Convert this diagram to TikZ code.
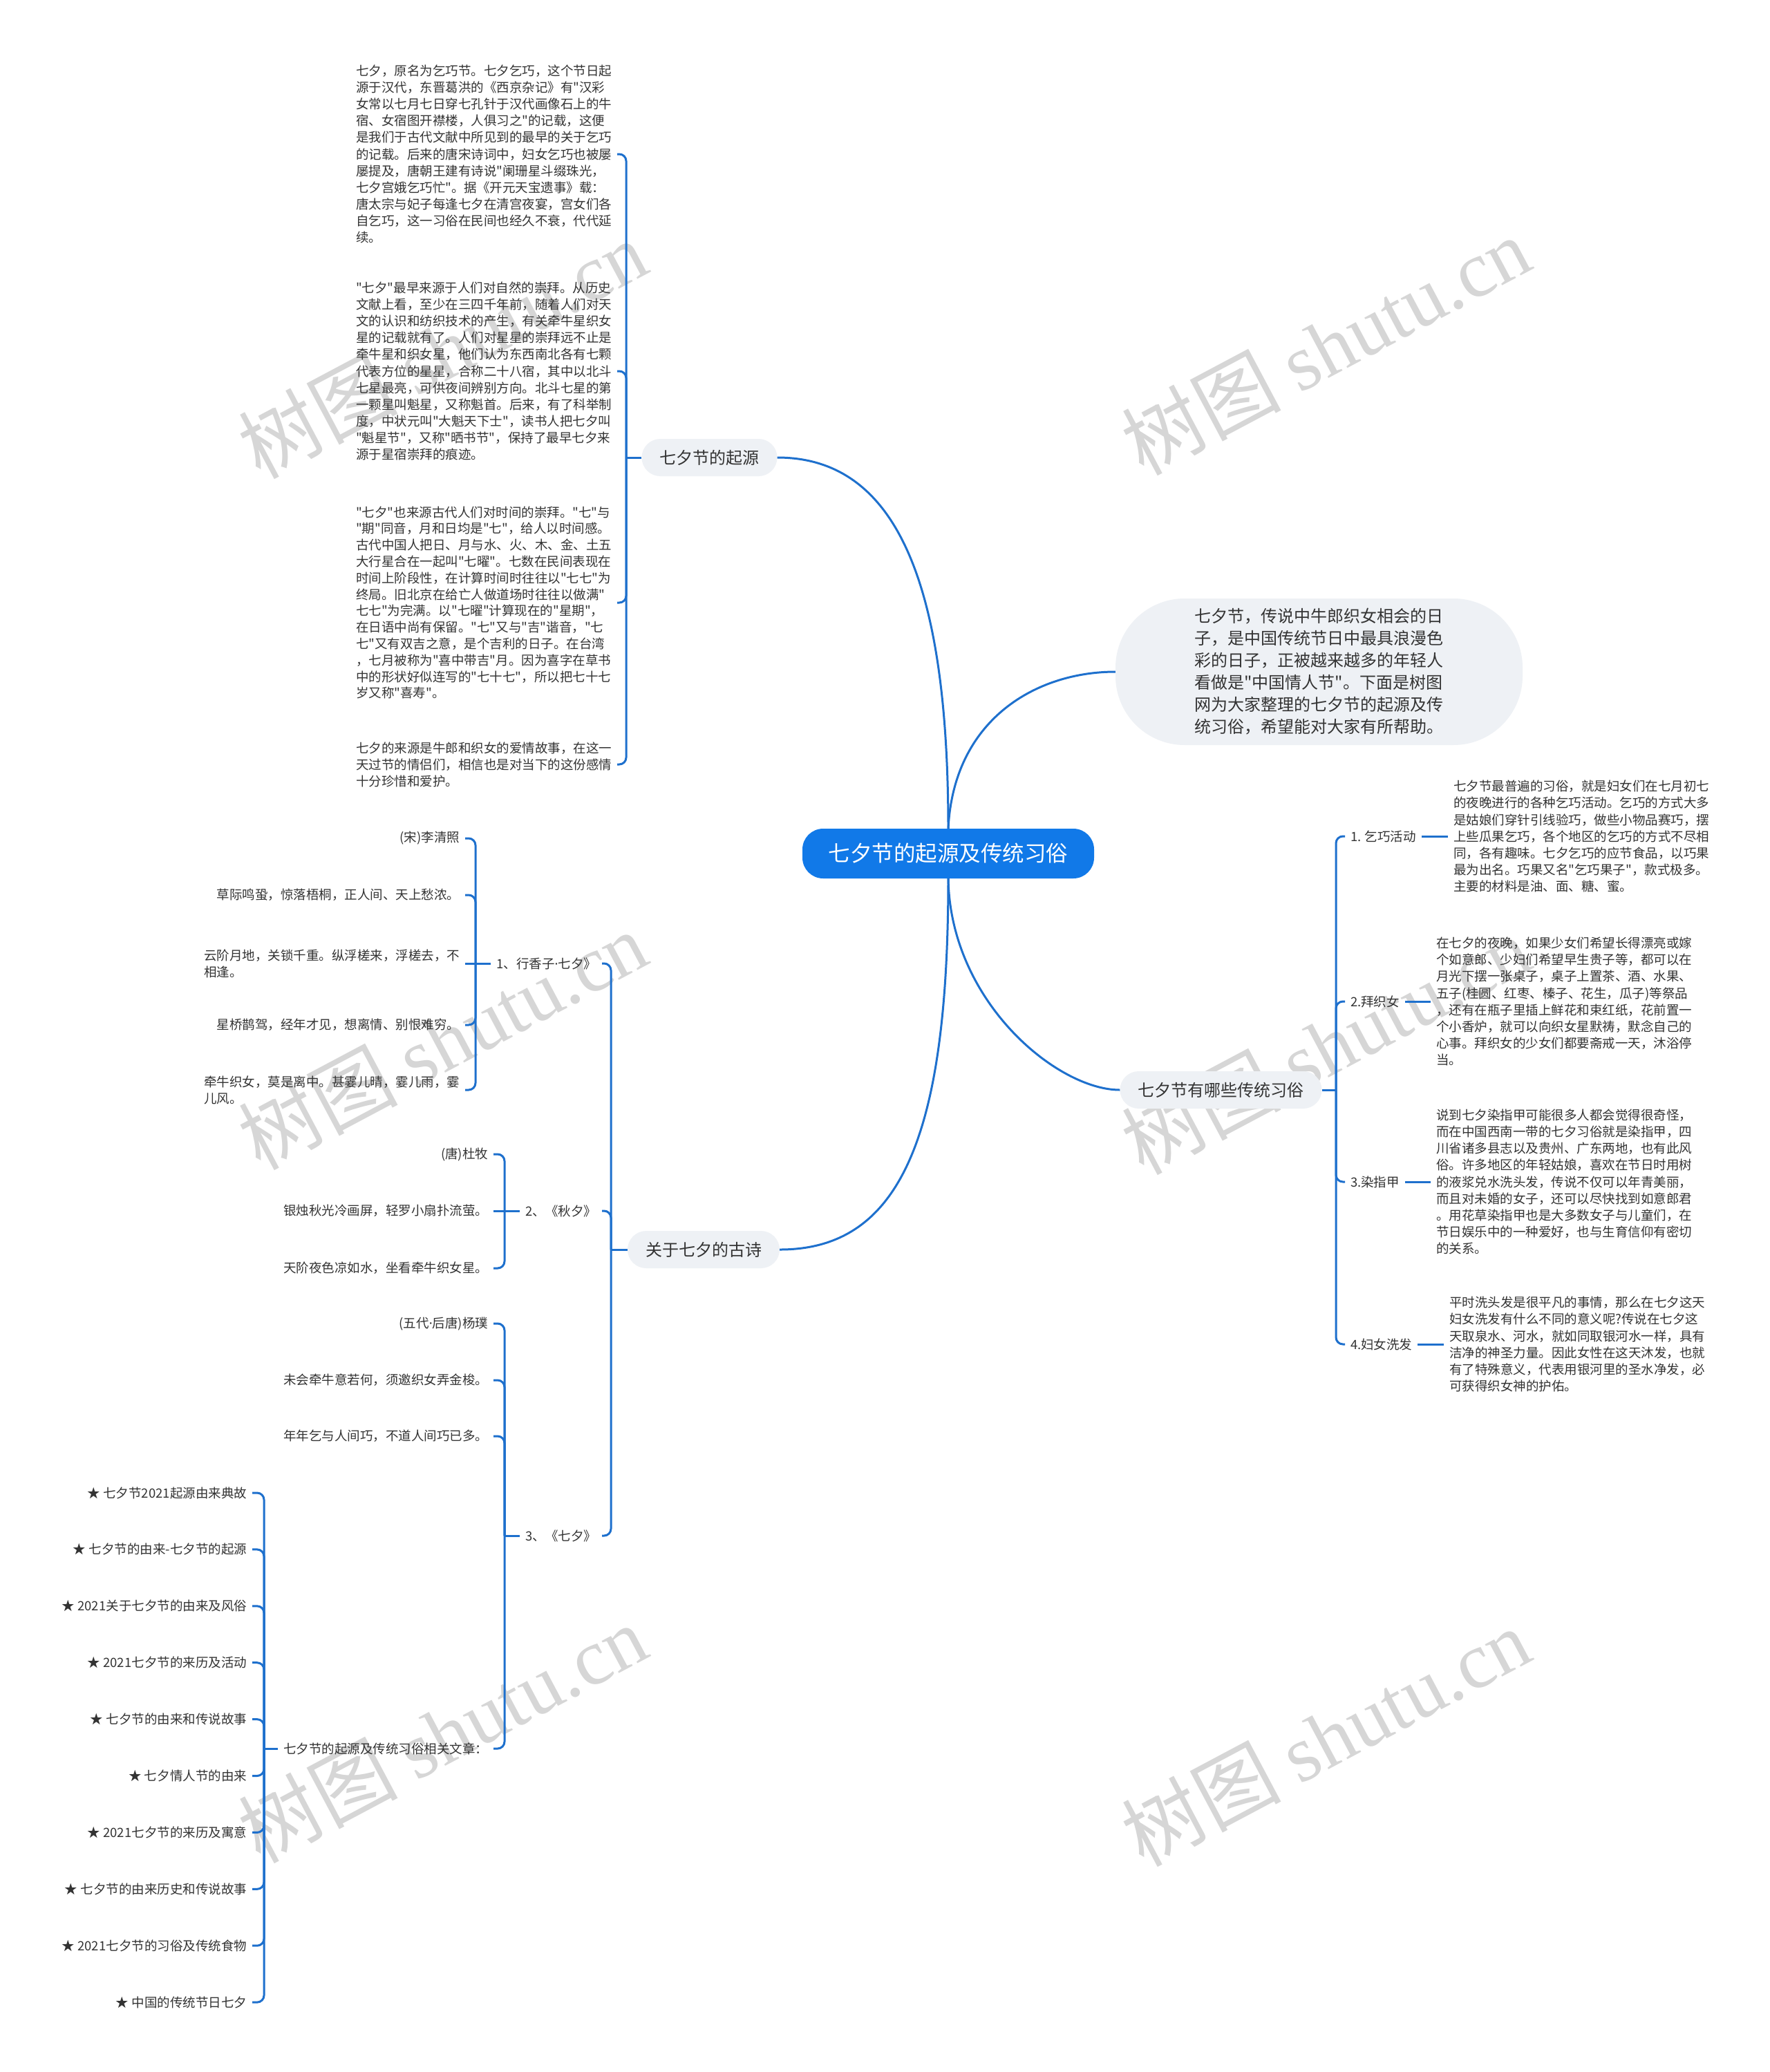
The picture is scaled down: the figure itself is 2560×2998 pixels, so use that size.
\documentclass[tikz,border=0pt]{standalone}
\usepackage{fontspec}
\setmainfont{Noto Sans CJK SC}[Ligatures=TeXOff]
\newfontfamily\wmlatin{Liberation Serif}
\newfontfamily\latinsans{Noto Sans}
\definecolor{lineblue}{RGB}{30,112,205}
\definecolor{rootblue}{RGB}{17,121,232}
\definecolor{pill}{RGB}{238,241,245}
\definecolor{txt}{RGB}{51,51,51}
\definecolor{wm}{RGB}{214,214,214}
\newcommand{\mdot}{{\latinsans ·}}
\tikzset{
  body/.style={font=\fontsize{18.5}{24.1}\selectfont, text=txt, align=left, inner sep=0pt, outer xsep=8pt},
  lbl/.style={font=\fontsize{18.5}{24.1}\selectfont, text=txt, inner sep=0pt, outer xsep=8pt},
  lvl/.style={font=\fontsize{24}{30}\selectfont, text=txt, fill=pill, rounded corners=27pt, minimum height=54pt, inner xsep=26pt, inner ysep=0pt},
  rootbox/.style={font=\fontsize{31.5}{36}\selectfont, text=white, fill=rootblue, rounded corners=30pt, minimum width=422pt, minimum height=72pt, inner sep=0pt},
  intro/.style={font=\fontsize{24}{32}\selectfont, text=txt, fill=pill, rounded corners=100pt, minimum width=589pt, minimum height=212pt, align=left, inner sep=0pt},
  conn/.style={draw=lineblue, line width=3pt},
  hook/.style={conn, rounded corners=10pt},
  wmark/.style={text=wm, rotate=28, font=\fontsize{115}{120}\selectfont, inner sep=0pt},
}
\begin{document}
\begin{tikzpicture}[x=1pt,y=-1pt]
\fill[white] (0,0) rectangle (2560,2998);
\useasboundingbox (0,0) rectangle (2560,2998);

% watermarks
\node[wmark] (w1) at (640,505) {树图 {\wmlatin shutu.cn}};
\node[wmark] (w2) at (1918,500) {树图 {\wmlatin shutu.cn}};
\node[wmark] (w3) at (640,1505) {树图 {\wmlatin shutu.cn}};
\node[wmark] (w4) at (1918,1512) {树图 {\wmlatin shutu.cn}};
\node[wmark] (w5) at (640,2508) {树图 {\wmlatin shutu.cn}};
\node[wmark] (w6) at (1918,2513) {树图 {\wmlatin shutu.cn}};

% root and level 1
\node[rootbox] (root) at (1372,1235) {七夕节的起源及传统习俗};
\node[lvl] (orig) at (1026.5,662) {七夕节的起源};
\node[lvl] (poem) at (1018,1808) {关于七夕的古诗};
\node[lvl] (cust) at (1766.5,1577) {七夕节有哪些传统习俗};
\node[intro] (intro) at (1908.5,972) {七夕节，传说中牛郎织女相会的日\\子，是中国传统节日中最具浪漫色\\彩的日子，正被越来越多的年轻人\\看做是"中国情人节"。下面是树图\\网为大家整理的七夕节的起源及传\\统习俗，希望能对大家有所帮助。};

\draw[conn] (root.north) .. controls (1372,850) and (1300,662) .. (orig.east);
\draw[conn] (root.north) .. controls (1380,1040) and (1500,972) .. (intro.west);
\draw[conn] (root.south) .. controls (1375,1450) and (1530,1577) .. (cust.west);
\draw[conn] (root.south) .. controls (1372,1650) and (1300,1808) .. (poem.east);

% origin blocks
\node[body, anchor=west] (b1) at (507,223) {七夕，原名为乞巧节。七夕乞巧，这个节日起\\源于汉代，东晋葛洪的《西京杂记》有"汉彩\\女常以七月七日穿七孔针于汉代画像石上的牛\\宿、女宿图开襟楼，人俱习之"的记载，这便\\是我们于古代文献中所见到的最早的关于乞巧\\的记载。后来的唐宋诗词中，妇女乞巧也被屡\\屡提及，唐朝王建有诗说"阑珊星斗缀珠光，\\七夕宫娥乞巧忙"。据《开元天宝遗事》载：\\唐太宗与妃子每逢七夕在清宫夜宴，宫女们各\\自乞巧，这一习俗在民间也经久不衰，代代延\\续。};
\node[body, anchor=west] (b2) at (507,537) {"七夕"最早来源于人们对自然的崇拜。从历史\\文献上看，至少在三四千年前，随着人们对天\\文的认识和纺织技术的产生，有关牵牛星织女\\星的记载就有了。人们对星星的崇拜远不止是\\牵牛星和织女星，他们认为东西南北各有七颗\\代表方位的星星，合称二十八宿，其中以北斗\\七星最亮，可供夜间辨别方向。北斗七星的第\\一颗星叫魁星，又称魁首。后来，有了科举制\\度，中状元叫"大魁天下士"，读书人把七夕叫\\"魁星节"，又称"晒书节"，保持了最早七夕来\\源于星宿崇拜的痕迹。};
\node[body, anchor=west, font=\fontsize{18.5}{23.8}\selectfont] (b3) at (507,872) {"七夕"也来源古代人们对时间的崇拜。"七"与\\"期"同音，月和日均是"七"，给人以时间感。\\古代中国人把日、月与水、火、木、金、土五\\大行星合在一起叫"七曜"。七数在民间表现在\\时间上阶段性，在计算时间时往往以"七七"为\\终局。旧北京在给亡人做道场时往往以做满"\\七七"为完满。以"七曜"计算现在的"星期"，\\在日语中尚有保留。"七"又与"吉"谐音，"七\\七"又有双吉之意，是个吉利的日子。在台湾\\，七月被称为"喜中带吉"月。因为喜字在草书\\中的形状好似连写的"七十七"，所以把七十七\\岁又称"喜寿"。};
\node[body, anchor=west] (b4) at (507,1106) {七夕的来源是牛郎和织女的爱情故事，在这一\\天过节的情侣们，相信也是对当下的这份感情\\十分珍惜和爱护。};

\coordinate (jo) at (906,662);
\draw[conn] (orig.west) -- (jo);
\foreach \n in {b1,b2,b3,b4} \draw[hook] (jo) |- (\n.east);

% poems
\node[lbl, anchor=east] (L1) at (871,1394) {1、行香子\mdot 七夕》};
\node[lbl, anchor=east] (L2) at (871,1752) {2、《秋夕》};
\node[lbl, anchor=east] (L3) at (871,2222) {3、《七夕》};
\coordinate (jp) at (884,1808);
\draw[conn] (poem.west) -- (jp);
\foreach \n in {L1,L2,L3} \draw[hook] (jp) |- (\n.east);

\node[lbl, anchor=east] (c1) at (673,1213) {(宋)李清照};
\node[lbl, anchor=east] (c2) at (673,1295) {草际鸣蛩，惊落梧桐，正人间、天上愁浓。};
\node[body, anchor=east] (c3) at (673,1394) {云阶月地，关锁千重。纵浮槎来，浮槎去，不\\相逢。};
\node[lbl, anchor=east] (c4) at (673,1483) {星桥鹊驾，经年才见，想离情、别恨难穷。};
\node[body, anchor=east] (c5) at (673,1577) {牵牛织女，莫是离中。甚霎儿晴，霎儿雨，霎\\儿风。};
\coordinate (j1) at (688,1394);
\draw[conn] (L1.west) -- (j1);
\foreach \n in {c1,c2,c4,c5} \draw[hook] (j1) |- (\n.east);
\draw[conn] (j1) -- (c3.east);

\node[lbl, anchor=east] (d1) at (714,1670) {(唐)杜牧};
\node[lbl, anchor=east] (d2) at (714,1752) {银烛秋光冷画屏，轻罗小扇扑流萤。};
\node[lbl, anchor=east] (d3) at (714,1835) {天阶夜色凉如水，坐看牵牛织女星。};
\coordinate (j2) at (730,1752);
\draw[conn] (L2.west) -- (j2);
\draw[conn] (j2) -- (d2.east);
\foreach \n in {d1,d3} \draw[hook] (j2) |- (\n.east);

\node[lbl, anchor=east] (e1) at (714,1915) {(五代\mdot 后唐)杨璞};
\node[lbl, anchor=east] (e2) at (714,1997) {未会牵牛意若何，须邀织女弄金梭。};
\node[lbl, anchor=east] (e3) at (714,2078) {年年乞与人间巧，不道人间巧已多。};
\node[lbl, anchor=east] (e4) at (714,2530) {七夕节的起源及传统习俗相关文章：};
\coordinate (j3) at (730,2222);
\draw[conn] (L3.west) -- (j3);
\foreach \n in {e1,e2,e3,e4} \draw[hook] (j3) |- (\n.east);

\coordinate (j4) at (382,2530);
\draw[conn] (e4.west) -- (j4);
\foreach \t [count=\i from 0] in {★ 七夕节2021起源由来典故, ★ 七夕节的由来-七夕节的起源, ★ 2021关于七夕节的由来及风俗, ★ 2021七夕节的来历及活动, ★ 七夕节的由来和传说故事, ★ 七夕情人节的由来, ★ 2021七夕节的来历及寓意, ★ 七夕节的由来历史和传说故事, ★ 2021七夕节的习俗及传统食物, ★ 中国的传统节日七夕}{
  \node[lbl, anchor=east] (a\i) at (365,{2160+81.9*\i}) {\t};
  \draw[hook] (j4) |- (a\i.east);
}

% customs
\node[lbl, anchor=west] (R1) at (1946,1210) {1. 乞巧活动};
\node[lbl, anchor=west] (R2) at (1946,1449) {2.拜织女};
\node[lbl, anchor=west] (R3) at (1946,1710) {3.染指甲};
\node[lbl, anchor=west] (R4) at (1946,1945) {4.妇女洗发};
\coordinate (jr) at (1933,1577);
\draw[conn] (cust.east) -- (jr);
\foreach \n in {R1,R2,R3,R4} \draw[hook] (jr) |- (\n.west);

\node[body, anchor=west] (T1) at (2095,1210) {七夕节最普遍的习俗，就是妇女们在七月初七\\的夜晚进行的各种乞巧活动。乞巧的方式大多\\是姑娘们穿针引线验巧，做些小物品赛巧，摆\\上些瓜果乞巧，各个地区的乞巧的方式不尽相\\同，各有趣味。七夕乞巧的应节食品，以巧果\\最为出名。巧果又名"乞巧果子"，款式极多。\\主要的材料是油、面、糖、蜜。};
\node[body, anchor=west] (T2) at (2070,1449) {在七夕的夜晚，如果少女们希望长得漂亮或嫁\\个如意郎、少妇们希望早生贵子等，都可以在\\月光下摆一张桌子，桌子上置茶、酒、水果、\\五子(桂圆、红枣、榛子、花生，瓜子)等祭品\\，还有在瓶子里插上鲜花和束红纸，花前置一\\个小香炉，就可以向织女星默祷，默念自己的\\心事。拜织女的少女们都要斋戒一天，沐浴停\\当。};
\node[body, anchor=west] (T3) at (2070,1710) {说到七夕染指甲可能很多人都会觉得很奇怪，\\而在中国西南一带的七夕习俗就是染指甲，四\\川省诸多县志以及贵州、广东两地，也有此风\\俗。许多地区的年轻姑娘，喜欢在节日时用树\\的液浆兑水洗头发，传说不仅可以年青美丽，\\而且对未婚的女子，还可以尽快找到如意郎君\\。用花草染指甲也是大多数女子与儿童们，在\\节日娱乐中的一种爱好，也与生育信仰有密切\\的关系。};
\node[body, anchor=west] (T4) at (2089,1945) {平时洗头发是很平凡的事情，那么在七夕这天\\妇女洗发有什么不同的意义呢?传说在七夕这\\天取泉水、河水，就如同取银河水一样，具有\\洁净的神圣力量。因此女性在这天沐发，也就\\有了特殊意义，代表用银河里的圣水净发，必\\可获得织女神的护佑。};
\draw[conn] (R1.east) -- (T1.west);
\draw[conn] (R2.east) -- (T2.west);
\draw[conn] (R3.east) -- (T3.west);
\draw[conn] (R4.east) -- (T4.west);
\end{tikzpicture}
\end{document}
